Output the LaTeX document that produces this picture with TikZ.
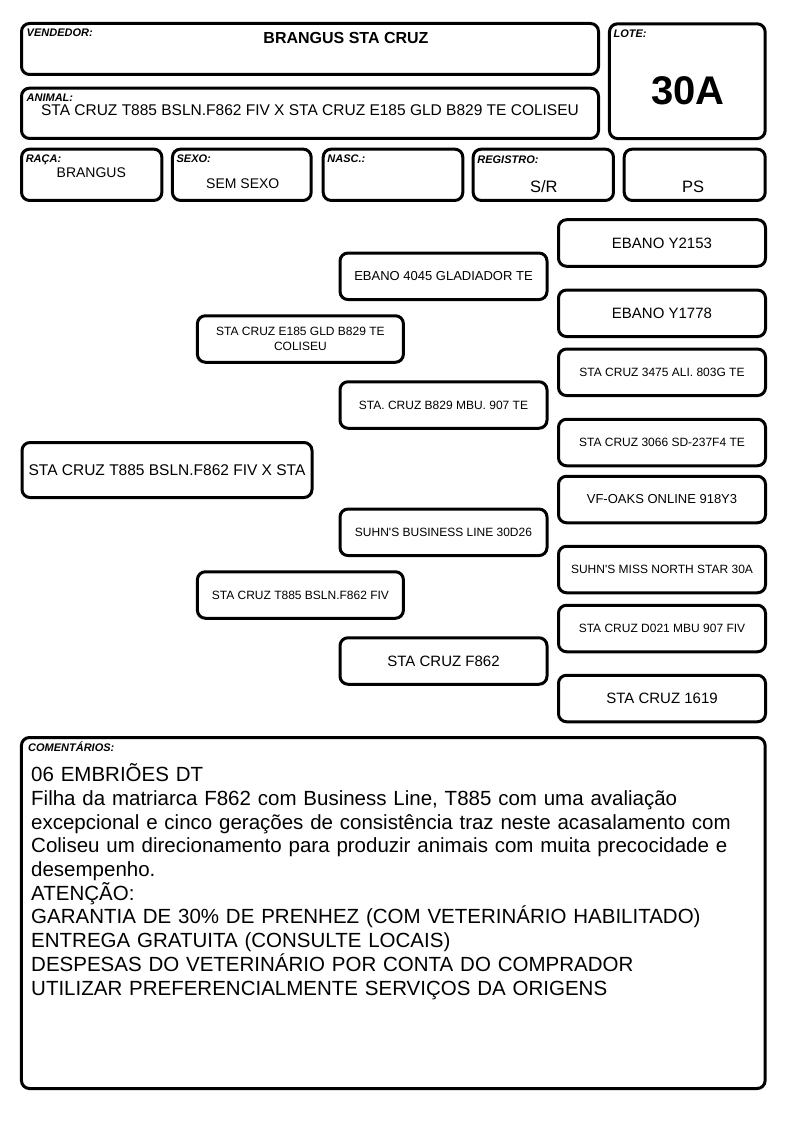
\documentclass[tikz,border=0pt]{standalone}
\usepackage{fontspec}
\setmainfont{Liberation Sans}
\usetikzlibrary{positioning}
\begin{document}
\begin{tikzpicture}[x=1pt,y=-1pt]
% --- Layout & Styles --------------------------------------
\tikzstyle{box}=[draw, line width=3pt, rounded corners=8pt, inner sep=0pt]
\tikzstyle{tag}=[inner sep=0pt, anchor=base west, font=\fontsize{11}{13}\selectfont\bfseries\itshape]
\tikzstyle{value}=[inner sep=0pt, font=\fontsize{14}{16}\selectfont]
\tikzstyle{pedigree}=[box, minimum width=207pt, minimum height=46.5pt, align=center, font=\fontsize{12}{15.5}\selectfont]
\tikzstyle{big}=[font=\fontsize{15}{18}\selectfont]
\tikzstyle{mid}=[font=\fontsize{13}{16}\selectfont]
\useasboundingbox (0,0) rectangle (794,1123);

% --- Header -----------------------------------------------
\node[box, minimum width=577pt, minimum height=51pt] (vendedor) at (310,49) {};
\node[box, minimum width=577pt, minimum height=50.3pt] (animal) at (310,113.3) {};
\node[box, minimum width=155.7pt, minimum height=114.7pt] (lote) at (687.3,81.2) {};
\node[box, minimum width=140.3pt, minimum height=51.3pt] (raca) at (91.7,174.8) {};
\node[box, minimum width=138.7pt, minimum height=51.3pt] (sexo) at (241.8,174.8) {};
\node[box, minimum width=139.6pt, minimum height=51.3pt] (nasc) at (393,174.8) {};
\node[box, minimum width=140.3pt, minimum height=51.3pt] (registro) at (543.3,174.8) {};
\node[box, minimum width=141pt, minimum height=51.3pt] (ps) at (694.7,174.8) {};

\node[tag] (vendedor-t) at ([shift={(6.5,15)}]vendedor.north west) {VENDEDOR:};
\node[tag] (animal-t) at ([shift={(6.5,14.5)}]animal.north west) {ANIMAL:};
\node[tag] (lote-t) at ([shift={(5.5,15.2)}]lote.north west) {LOTE:};
\node[tag] (raca-t) at ([shift={(5.5,14.5)}]raca.north west) {RAÇA:};
\node[tag] (sexo-t) at ([shift={(5.5,15)}]sexo.north west) {SEXO:};
\node[tag] (nasc-t) at ([shift={(5.5,15)}]nasc.north west) {NASC.:};
\node[tag] (registro-t) at ([shift={(5.5,15.8)}]registro.north west) {REGISTRO:};

\node[value, font=\fontsize{16}{18}\selectfont\bfseries] (vendedor-v) at (346,38) {BRANGUS STA CRUZ};
\node[value, font=\fontsize{15.5}{18}\selectfont] (animal-v) at (310,110.5) {STA CRUZ T885 BSLN.F862 FIV X STA CRUZ E185 GLD B829 TE COLISEU};
\node[value, font=\fontsize{40}{44}\selectfont\bfseries] (lote-v) at (688,90.5) {30A};
\node[value] (raca-v) at (91.3,173) {BRANGUS};
\node[value] (sexo-v) at (242.8,184) {SEM SEXO};
\node[value, font=\fontsize{16.5}{19}\selectfont] (registro-v) at (543.8,186.5) {S/R};
\node[value, font=\fontsize{16.5}{19}\selectfont] (ps-v) at (693,187) {PS};

% --- Pedigree ---------------------------------------------
\node[pedigree, big] (y2153) at (662,243) {EBANO Y2153};
\node[pedigree, mid] (ebano4045) at (443.5,276.3) {EBANO 4045 GLADIADOR TE};
\node[pedigree, big] (y1778) at (662,313.3) {EBANO Y1778};
\node[pedigree, minimum width=206pt] (e185) at (300.4,339) {STA CRUZ E185 GLD B829 TE\\COLISEU};
\node[pedigree] (sc3475) at (662,372.3) {STA CRUZ 3475 ALI. 803G TE};
\node[pedigree] (b829) at (443.5,405) {STA. CRUZ B829 MBU. 907 TE};
\node[pedigree] (sc3066) at (662,442.5) {STA CRUZ 3066 SD-237F4 TE};
\node[pedigree, minimum width=290pt, minimum height=55pt, font=\fontsize{15.5}{18}\selectfont] (animal-p) at (167,470) {STA CRUZ T885 BSLN.F862 FIV X STA};
\node[pedigree, mid] (vfoaks) at (662,499.5) {VF-OAKS ONLINE 918Y3};
\node[pedigree] (suhn30d26) at (443.5,532.3) {SUHN\textquotesingle S BUSINESS LINE 30D26};
\node[pedigree] (suhn30a) at (662,569.5) {SUHN\textquotesingle S MISS NORTH STAR 30A};
\node[pedigree, minimum width=206pt] (t885) at (300.4,595) {STA CRUZ T885 BSLN.F862 FIV};
\node[pedigree] (d021) at (662,628.5) {STA CRUZ D021 MBU 907 FIV};
\node[pedigree, big] (f862) at (443.5,661) {STA CRUZ F862};
\node[pedigree, big] (sc1619) at (662,698.5) {STA CRUZ 1619};

% --- Comments ---------------------------------------------
\node[box, minimum width=743.7pt, minimum height=351pt] (comentarios) at (393.3,913) {};
\node[tag] (comentarios-t) at ([shift={(8,15.8)}]comentarios.north west) {COMENTÁRIOS:};
\node[inner sep=0pt, anchor=base west, text width=740pt, align=left, font=\fontsize{20.5}{23.7}\selectfont] (comentarios-v) at (31,781.7) {06 EMBRIÕES DT\\
Filha da matriarca F862 com Business Line, T885 com uma avaliação\\
excepcional e cinco gerações de consistência traz neste acasalamento com\\
Coliseu um direcionamento para produzir animais com muita precocidade e\\
desempenho.\\
ATENÇÃO:\\
GARANTIA DE 30\% DE PRENHEZ (COM VETERINÁRIO HABILITADO)\\
ENTREGA GRATUITA (CONSULTE LOCAIS)\\
DESPESAS DO VETERINÁRIO POR CONTA DO COMPRADOR\\
UTILIZAR PREFERENCIALMENTE SERVIÇOS DA ORIGENS};

\end{tikzpicture}
\end{document}
